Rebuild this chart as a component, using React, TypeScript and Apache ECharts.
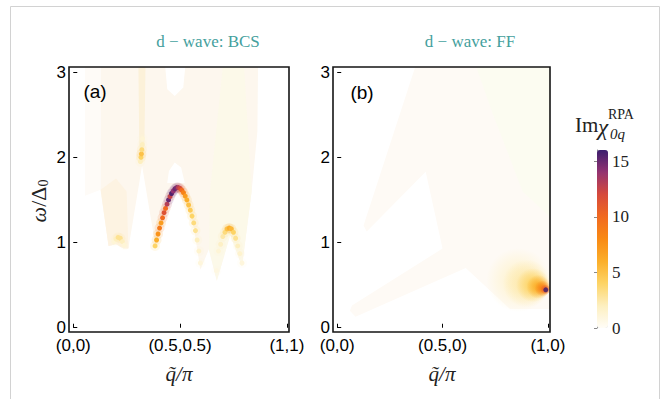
import React, { useEffect, useRef } from 'react';
import * as echarts from 'echarts';

// ---- axis ticks ----
const xTickValues = [0, 0.5, 1];
const xTickLabelsA = ['(0,0)', '(0.5,0.5)', '(1,1)'];
const xTickLabelsB = ['(0,0)', '(0.5,0)', '(1,0)'];
const yTickValues = [0, 1, 2, 3];
const colorbarTicks = [0, 5, 10, 15];

// ---- panel (a): ridges [q/pi, omega/Delta0, Im chi] ----
const mainDomeA = [
  [0.383, 0.96, 4], [0.39, 1.03, 6], [0.397, 1.1, 7.5], [0.404, 1.17, 9], [0.411, 1.23, 7],
  [0.418, 1.29, 10], [0.425, 1.35, 11.5], [0.432, 1.4, 10], [0.439, 1.45, 13], [0.446, 1.5, 15],
  [0.453, 1.54, 12.5], [0.46, 1.575, 15.5], [0.468, 1.605, 14], [0.476, 1.63, 15], [0.484, 1.645, 14.5],
  [0.492, 1.645, 13], [0.5, 1.635, 12], [0.508, 1.615, 10], [0.516, 1.585, 8.5], [0.524, 1.545, 7],
  [0.532, 1.5, 6], [0.54, 1.44, 5], [0.548, 1.38, 4.5], [0.556, 1.31, 4], [0.564, 1.23, 3.5],
  [0.572, 1.14, 3], [0.58, 1.03, 2], [0.588, 0.9, 1.5], [0.595, 0.76, 1],
];
const cuspA = [
  [0.314, 1.95, 2], [0.317, 2.0, 4], [0.319, 2.04, 5], [0.321, 2.09, 3.5], [0.323, 2.15, 2], [0.324, 2.22, 1.2],
];
const lowDomeA = [
  [0.19, 1.01, 1.2], [0.2, 1.04, 2], [0.21, 1.06, 3], [0.22, 1.05, 3], [0.23, 1.01, 2], [0.24, 0.97, 1.2],
];
const rightDomeA = [
  [0.67, 0.67, 0.8], [0.68, 0.9, 1.2], [0.69, 0.98, 1.8], [0.7, 1.07, 2.5], [0.71, 1.12, 3.5], [0.72, 1.16, 5],
  [0.73, 1.17, 6], [0.74, 1.16, 5.5], [0.75, 1.12, 4], [0.76, 1.05, 3], [0.77, 0.96, 2], [0.78, 0.87, 1.5], [0.79, 0.76, 1],
];

// ---- panel (a): faint continuum regions (polygon vertices) ----
const faintLeftA = [[0.055, 3.06], [0.13, 3.06], [0.128, 1.62], [0.055, 1.55]];
const creamA = [
  [0.13, 3.06], [0.865, 3.06], [0.862, 2.3], [0.835, 1.6], [0.79, 0.72], [0.735, 1.09], [0.672, 0.55],
  [0.635, 0.92], [0.595, 0.68], [0.56, 1.25], [0.515, 1.55], [0.485, 1.6], [0.455, 1.52], [0.425, 1.3],
  [0.385, 0.96], [0.322, 1.9], [0.258, 0.93], [0.235, 0.93], [0.2, 0.98], [0.165, 0.96], [0.128, 1.62],
];
const firstBandA = [[0.128, 1.62], [0.165, 0.96], [0.2, 0.98], [0.235, 0.93], [0.258, 0.93], [0.25, 1.6], [0.2, 1.75]];
const cuspBandA = [[0.305, 3.06], [0.338, 3.06], [0.333, 2.15], [0.322, 1.92], [0.309, 2.15]];
const rightBandA = [[0.64, 1.6], [0.7, 3.06], [0.8, 3.06], [0.835, 1.6], [0.79, 0.72], [0.735, 1.09], [0.672, 0.55], [0.635, 0.92]];
const notchA = [[0.43, 3.08], [0.525, 3.08], [0.515, 2.82], [0.475, 2.72], [0.44, 2.8]];
const bumpA = [[0.44, 1.7], [0.448, 1.84], [0.475, 1.94], [0.505, 1.88], [0.522, 1.7]];

// ---- panel (b) ----
const creamB = [
  [0.37, 3.06], [1.01, 3.06], [1.01, 0.22], [0.82, 0.22], [0.72, 0.45], [0.61, 0.7], [0.087, 0.13],
  [0.06, 0.2], [0.07, 0.26], [0.5, 0.93], [0.42, 1.83], [0.14, 1.13], [0.125, 1.2],
];
const greenB = [[0.66, 3.06], [1.01, 3.06], [1.01, 1.3], [0.88, 1.6], [0.74, 2.5]];
const haloB = [
  [0.86, 0.56, 1.5], [0.9, 0.52, 2.5], [0.93, 0.5, 4], [0.955, 0.48, 6], [0.975, 0.462, 8.5], [0.988, 0.45, 11],
];
const spotB = [[0.99, 0.445, 16]];

// ---- style constants ----
const haloRadii = [32, 24, 17, 12, 8, 5];
const colorStops = ['#fffdf7', '#fdefc0', '#fdd466', '#fbae2a', '#f98a14', '#f16a20', '#d64a3c', '#943370', '#3b1e6e'];
const TEAL = '#44a09d';
const SERIF = 'Liberation Serif';
const SANS = 'Liberation Sans';

function polygonSeries(points: number[][], idx: number, color: string) {
  return {
    type: 'custom',
    xAxisIndex: idx,
    yAxisIndex: idx,
    data: points,
    encode: { x: 0, y: 1 },
    silent: true,
    clip: true,
    renderItem: (params: any, api: any) => {
      if (params.dataIndex !== 0) return null;
      return {
        type: 'polygon',
        shape: { points: points.map((p) => api.coord(p)) },
        style: { fill: color, stroke: null },
      };
    },
  };
}

function panelXAxis(idx: number, labels: string[]) {
  return {
    gridIndex: idx,
    type: 'value',
    min: -0.02,
    max: 1.01,
    axisLine: { show: false },
    splitLine: { show: false },
    axisTick: { show: true, inside: true, length: 4, customValues: xTickValues, lineStyle: { color: '#000', width: 1 } },
    axisLabel: {
      customValues: xTickValues,
      formatter: (v: number) => labels[xTickValues.indexOf(v)] ?? '',
      fontFamily: SANS,
      fontSize: 17,
      color: '#000',
      margin: 5,
    },
  };
}

function panelYAxis(idx: number) {
  return {
    gridIndex: idx,
    type: 'value',
    min: -0.05,
    max: 3.06,
    axisLine: { show: false },
    splitLine: { show: false },
    axisTick: { show: true, inside: true, length: 4, customValues: yTickValues, lineStyle: { color: '#000', width: 1 } },
    axisLabel: { customValues: yTickValues, fontFamily: SANS, fontSize: 17, color: '#000', margin: 3 },
  };
}

function buildOption() {
  const ridgesA = [...mainDomeA, ...cuspA, ...lowDomeA, ...rightDomeA];
  const series: any[] = [
    polygonSeries(faintLeftA, 0, '#fefbf7'),
    polygonSeries(creamA, 0, '#fdf7ee'),
    polygonSeries(firstBandA, 0, '#fdf3e2'),
    polygonSeries(cuspBandA, 0, '#fcf1d9'),
    polygonSeries(rightBandA, 0, '#fcf9e9'),
    polygonSeries(notchA, 0, '#ffffff'),
    polygonSeries(bumpA, 0, '#ffffff'),
    polygonSeries(creamB, 1, '#fefaf5'),
    polygonSeries(greenB, 1, '#fcfcf1'),
  ];
  const mapped: number[] = [];
  mapped.push(series.length);
  series.push({
    type: 'scatter', xAxisIndex: 0, yAxisIndex: 0, data: ridgesA, symbolSize: 10, silent: true,
    itemStyle: { opacity: 0.14 },
  });
  mapped.push(series.length);
  series.push({
    type: 'scatter', xAxisIndex: 0, yAxisIndex: 0, data: ridgesA, symbolSize: 5, silent: true,
    itemStyle: { opacity: 1 },
  });
  mapped.push(series.length);
  series.push({
    type: 'custom', xAxisIndex: 1, yAxisIndex: 1, data: haloB, encode: { x: 0, y: 1 }, silent: true, clip: true,
    renderItem: (params: any, api: any) => {
      const c = api.coord([api.value(0), api.value(1)]);
      const col = api.visual('color');
      const r = haloRadii[params.dataIndex];
      return {
        type: 'circle',
        shape: { cx: c[0], cy: c[1], r },
        style: {
          fill: new echarts.graphic.RadialGradient(0.5, 0.5, 0.5, [
            { offset: 0, color: col },
            { offset: 0.3, color: echarts.color.modifyAlpha(col, 0.85) },
            { offset: 1, color: echarts.color.modifyAlpha(col, 0) },
          ]),
        },
      };
    },
  });
  mapped.push(series.length);
  series.push({
    type: 'scatter', xAxisIndex: 1, yAxisIndex: 1, data: spotB, symbolSize: 5, silent: true,
  });

  const graphic: any[] = [
    { type: 'rect', shape: { x: 10.5, y: 6.5, width: 649, height: 420 }, style: { fill: 'none', stroke: '#d2d2d2', lineWidth: 1 }, z: 100 },
    { type: 'rect', shape: { x: 69, y: 67, width: 220, height: 265 }, style: { fill: 'none', stroke: '#151515', lineWidth: 1.6 }, z: 100 },
    { type: 'rect', shape: { x: 333, y: 67, width: 217, height: 265 }, style: { fill: 'none', stroke: '#151515', lineWidth: 1.6 }, z: 100 },
    { type: 'text', x: 208, y: 41, z: 100, style: { text: 'd − wave: BCS', fill: TEAL, fontFamily: SERIF, fontSize: 17, align: 'center', verticalAlign: 'middle' } },
    { type: 'text', x: 470, y: 41, z: 100, style: { text: 'd − wave: FF', fill: TEAL, fontFamily: SERIF, fontSize: 17, align: 'center', verticalAlign: 'middle' } },
    { type: 'text', x: 95, y: 91, z: 100, style: { text: '(a)', fill: '#000', fontFamily: SANS, fontSize: 19, align: 'center', verticalAlign: 'middle' } },
    { type: 'text', x: 362, y: 92, z: 100, style: { text: '(b)', fill: '#000', fontFamily: SANS, fontSize: 19, align: 'center', verticalAlign: 'middle' } },
    {
      type: 'text', x: 38, y: 201, rotation: Math.PI / 2, z: 100,
      style: {
        text: '{w|ω}{n|/Δ}{s|0}', align: 'center', verticalAlign: 'middle',
        rich: {
          w: { fontFamily: SERIF, fontStyle: 'italic', fontSize: 22, fill: '#222' },
          n: { fontFamily: SERIF, fontSize: 22, fill: '#222' },
          s: { fontFamily: SERIF, fontSize: 14, fill: '#222', padding: [10, 0, 0, 0] },
        },
      },
    },
    { type: 'text', x: 179, y: 374, z: 100, style: { text: 'q̃/π', fill: '#222', fontFamily: SERIF, fontStyle: 'italic', fontSize: 21, align: 'center', verticalAlign: 'middle' } },
    { type: 'text', x: 442, y: 374, z: 100, style: { text: 'q̃/π', fill: '#222', fontFamily: SERIF, fontStyle: 'italic', fontSize: 21, align: 'center', verticalAlign: 'middle' } },
    { type: 'text', x: 575, y: 125, z: 100, style: { text: 'Im', fill: '#222', fontFamily: SERIF, fontSize: 21, align: 'left', verticalAlign: 'middle' } },
    { type: 'text', x: 598, y: 127, z: 100, style: { text: 'χ', fill: '#222', fontFamily: SERIF, fontStyle: 'italic', fontSize: 23, align: 'left', verticalAlign: 'middle' } },
    { type: 'text', x: 608, y: 114, z: 100, style: { text: 'RPA', fill: '#222', fontFamily: SERIF, fontSize: 14, align: 'left', verticalAlign: 'middle' } },
    { type: 'text', x: 610, y: 134, z: 100, style: { text: '0q', fill: '#222', fontFamily: SERIF, fontStyle: 'italic', fontSize: 15, align: 'left', verticalAlign: 'middle' } },
  ];

  return {
    animation: false,
    backgroundColor: '#ffffff',
    textStyle: { fontFamily: SANS },
    grid: [
      { left: 69, top: 67, width: 220, height: 265 },
      { left: 333, top: 67, width: 217, height: 265 },
      { left: 597, top: 150, width: 11, height: 178 },
    ],
    xAxis: [
      panelXAxis(0, xTickLabelsA),
      panelXAxis(1, xTickLabelsB),
      { gridIndex: 2, type: 'value', show: false, min: 0, max: 1 },
    ],
    yAxis: [
      panelYAxis(0),
      panelYAxis(1),
      {
        gridIndex: 2, type: 'value', min: 0, max: 16, position: 'right',
        axisLine: { show: true, lineStyle: { color: '#8a8a8a', width: 1 } },
        splitLine: { show: false },
        axisTick: { show: true, inside: true, length: 3, customValues: colorbarTicks, lineStyle: { color: '#8a8a8a' } },
        axisLabel: { customValues: colorbarTicks, fontFamily: SERIF, fontSize: 17, color: '#222', margin: 4 },
      },
    ],
    visualMap: {
      type: 'continuous',
      min: 0,
      max: 16,
      dimension: 2,
      seriesIndex: mapped,
      left: 597,
      top: 150,
      padding: 0,
      itemWidth: 11,
      itemHeight: 178,
      calculable: false,
      hoverLink: false,
      inRange: { color: colorStops },
    },
    graphic,
    series,
  };
}

export default function App() {
  const ref = useRef<HTMLDivElement>(null);
  useEffect(() => {
    const chart = echarts.init(ref.current!, null, { renderer: 'svg' });
    chart.setOption(buildOption() as any);
    return () => chart.dispose();
  }, []);
  return <div ref={ref} style={{ position: 'fixed', left: 0, top: 0, width: 667, height: 399 }} />;
}
